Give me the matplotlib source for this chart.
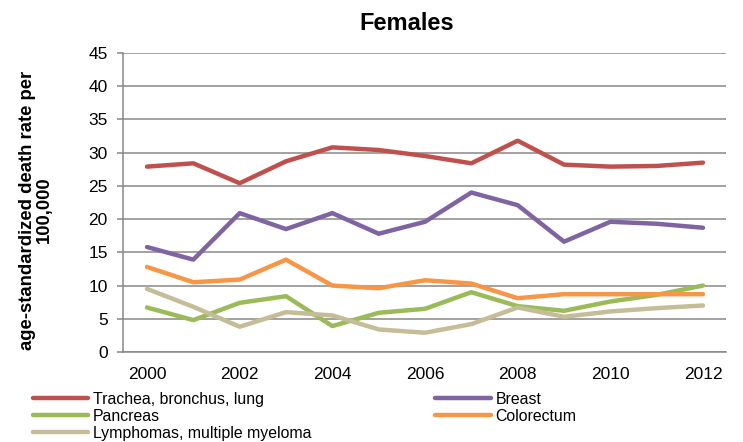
import matplotlib
matplotlib.use("Agg")
import matplotlib.pyplot as plt

plt.rcParams['font.family'] = ['Liberation Sans', 'DejaVu Sans']

# ----------------------------
# Data
# ----------------------------
years = list(range(2000, 2013))

lung = [27.9, 28.4, 25.4, 28.7, 30.8, 30.4, 29.5, 28.4, 31.8, 28.2, 27.9, 28.0, 28.5]
breast = [15.8, 13.9, 20.9, 18.5, 20.9, 17.8, 19.6, 24.0, 22.1, 16.6, 19.6, 19.3, 18.7]
pancreas = [6.7, 4.8, 7.4, 8.4, 3.9, 5.9, 6.5, 9.0, 6.9, 6.2, 7.6, 8.6, 10.0]
colorectum = [12.8, 10.5, 10.9, 13.9, 10.0, 9.6, 10.8, 10.3, 8.1, 8.7, 8.7, 8.7, 8.7]
lymphomas = [9.5, 6.8, 3.8, 6.0, 5.5, 3.4, 2.9, 4.2, 6.7, 5.3, 6.1, 6.6, 7.0]

labels = ["Trachea, bronchus, lung", "Breast", "Pancreas", "Colorectum",
          "Lymphomas, multiple myeloma"]
colors = ["#C0504D", "#8064A2", "#9BBB59", "#F79646", "#C4BD97"]
series = [lung, breast, pancreas, colorectum, lymphomas]

# ----------------------------
# Plot
# ----------------------------
W, H = 743, 442
fig = plt.figure(figsize=(W / 100, H / 100), dpi=100)
ax = fig.add_axes([123 / W, 90 / H, 603 / W, 299 / H])

lines = []
for vals, lab, col in zip(series, labels, colors):
    ln, = ax.plot(years, vals, color=col, lw=3.2, label=lab,
                  solid_capstyle='round', solid_joinstyle='round')
    lines.append(ln)

ax.set_xlim(1999.482, 2012.496)
ax.set_ylim(0, 45)
ax.set_yticks(range(0, 46, 5))
ax.set_xticks(range(2000, 2013, 2))

grid_col = "#878787"
ax.grid(axis='y', color=grid_col, lw=1.1)
ax.set_axisbelow(True)
for s in ['top', 'right']:
    ax.spines[s].set_visible(False)
for s in ['left', 'bottom']:
    ax.spines[s].set_color(grid_col)
    ax.spines[s].set_linewidth(1.1)

ax.tick_params(axis='y', length=4, width=1.1, color=grid_col, labelsize=12.5, pad=7)
ax.tick_params(axis='x', length=0, labelsize=12.5, pad=11)

fig.text(407 / W, 1 - 23.5 / H, "Females", ha='center', va='center',
         fontsize=17, fontweight='bold')
fig.text(36 / W, 1 - 210 / H, "age-standardized death rate per\n100,000",
         rotation=90, ha='center', va='center', fontsize=13.3,
         fontweight='bold', linespacing=1.05)

# legend: row-wise order like Excel
order = [0, 2, 4, 1, 3]
fig.legend([lines[i] for i in order], [labels[i] for i in order],
           ncol=2, loc='upper left', bbox_to_anchor=(33 / W, 1 - 392 / H),
           frameon=False, fontsize=11.4, borderpad=0, borderaxespad=0,
           handlelength=3.5, handletextpad=0.3, columnspacing=7.8,
           labelspacing=0.12)

plt.savefig("out.png", dpi=100)
